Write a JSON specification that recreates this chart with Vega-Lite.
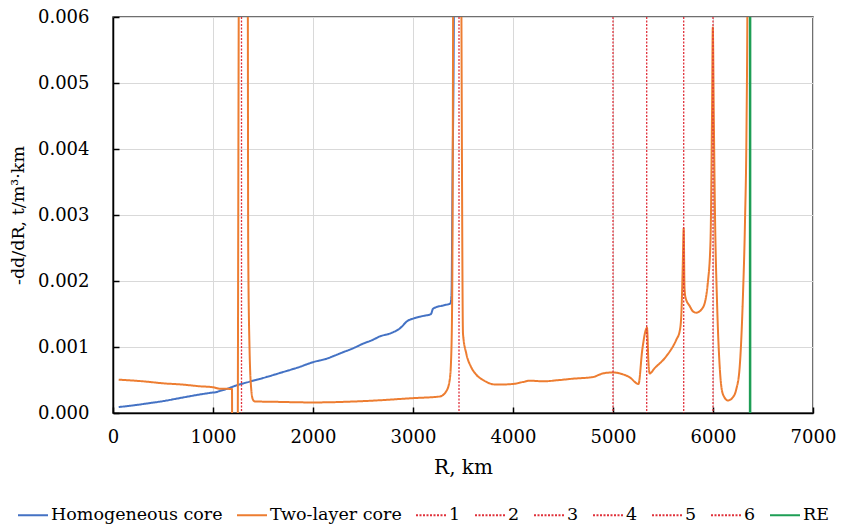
{
  "$schema": "https://vega.github.io/schema/vega-lite/v6.json",
  "width": 700,
  "height": 396,
  "autosize": {"type": "none"},
  "padding": {"left": 113, "top": 17, "right": 35, "bottom": 111},
  "background": "white",
  "config": {
    "view": {"stroke": "#404040", "strokeWidth": 1.5}
  },
  "datasets": {
    "curves": [
      {"series": "Homogeneous core", "r": 57, "v": 0.00009},
      {"series": "Homogeneous core", "r": 200, "v": 0.000115},
      {"series": "Homogeneous core", "r": 367, "v": 0.00015},
      {"series": "Homogeneous core", "r": 500, "v": 0.00018},
      {"series": "Homogeneous core", "r": 700, "v": 0.000235},
      {"series": "Homogeneous core", "r": 867, "v": 0.00028},
      {"series": "Homogeneous core", "r": 1000, "v": 0.00031},
      {"series": "Homogeneous core", "r": 1030, "v": 0.000315},
      {"series": "Homogeneous core", "r": 1060, "v": 0.00033},
      {"series": "Homogeneous core", "r": 1167, "v": 0.00038},
      {"series": "Homogeneous core", "r": 1200, "v": 0.0004},
      {"series": "Homogeneous core", "r": 1367, "v": 0.000475},
      {"series": "Homogeneous core", "r": 1500, "v": 0.00053},
      {"series": "Homogeneous core", "r": 1700, "v": 0.00062},
      {"series": "Homogeneous core", "r": 1850, "v": 0.00069},
      {"series": "Homogeneous core", "r": 2000, "v": 0.00077},
      {"series": "Homogeneous core", "r": 2150, "v": 0.00083},
      {"series": "Homogeneous core", "r": 2200, "v": 0.00086},
      {"series": "Homogeneous core", "r": 2300, "v": 0.00092},
      {"series": "Homogeneous core", "r": 2400, "v": 0.00098},
      {"series": "Homogeneous core", "r": 2500, "v": 0.00105},
      {"series": "Homogeneous core", "r": 2600, "v": 0.00111},
      {"series": "Homogeneous core", "r": 2667, "v": 0.00116},
      {"series": "Homogeneous core", "r": 2780, "v": 0.00121},
      {"series": "Homogeneous core", "r": 2867, "v": 0.00128},
      {"series": "Homogeneous core", "r": 2950, "v": 0.0014},
      {"series": "Homogeneous core", "r": 3000, "v": 0.00143},
      {"series": "Homogeneous core", "r": 3100, "v": 0.00147},
      {"series": "Homogeneous core", "r": 3180, "v": 0.0015},
      {"series": "Homogeneous core", "r": 3200, "v": 0.00158},
      {"series": "Homogeneous core", "r": 3300, "v": 0.00163},
      {"series": "Homogeneous core", "r": 3375, "v": 0.00166},
      {"series": "Homogeneous core", "r": 3385, "v": 0.0018},
      {"series": "Homogeneous core", "r": 3395, "v": 0.0035},
      {"series": "Homogeneous core", "r": 3410, "v": 0.0065},
      {"series": "Homogeneous core", "r": 3440, "v": 0.03},
      {"series": "Two-layer core", "r": 57, "v": 0.000505},
      {"series": "Two-layer core", "r": 300, "v": 0.00048},
      {"series": "Two-layer core", "r": 500, "v": 0.00045},
      {"series": "Two-layer core", "r": 700, "v": 0.00043},
      {"series": "Two-layer core", "r": 867, "v": 0.000405},
      {"series": "Two-layer core", "r": 1000, "v": 0.00039},
      {"series": "Two-layer core", "r": 1067, "v": 0.000368},
      {"series": "Two-layer core", "r": 1190, "v": 0.000364},
      {"series": "Two-layer core", "r": 1194, "v": -0.003},
      {"series": "Two-layer core", "r": 1240, "v": -0.003},
      {"series": "Two-layer core", "r": 1258, "v": 0.0065},
      {"series": "Two-layer core", "r": 1300, "v": 0.03},
      {"series": "Two-layer core", "r": 1348, "v": 0.0065},
      {"series": "Two-layer core", "r": 1352, "v": 0.0025},
      {"series": "Two-layer core", "r": 1365, "v": 0.001},
      {"series": "Two-layer core", "r": 1383, "v": 0.00035},
      {"series": "Two-layer core", "r": 1400, "v": 0.0002},
      {"series": "Two-layer core", "r": 1420, "v": 0.000175},
      {"series": "Two-layer core", "r": 1600, "v": 0.00017},
      {"series": "Two-layer core", "r": 2000, "v": 0.00016},
      {"series": "Two-layer core", "r": 2500, "v": 0.00018},
      {"series": "Two-layer core", "r": 3000, "v": 0.000225},
      {"series": "Two-layer core", "r": 3267, "v": 0.00025},
      {"series": "Two-layer core", "r": 3333, "v": 0.00033},
      {"series": "Two-layer core", "r": 3367, "v": 0.0005},
      {"series": "Two-layer core", "r": 3383, "v": 0.0009},
      {"series": "Two-layer core", "r": 3393, "v": 0.002},
      {"series": "Two-layer core", "r": 3402, "v": 0.0065},
      {"series": "Two-layer core", "r": 3440, "v": 0.03},
      {"series": "Two-layer core", "r": 3483, "v": 0.0065},
      {"series": "Two-layer core", "r": 3500, "v": 0.0012},
      {"series": "Two-layer core", "r": 3533, "v": 0.0009},
      {"series": "Two-layer core", "r": 3580, "v": 0.0007},
      {"series": "Two-layer core", "r": 3633, "v": 0.00058},
      {"series": "Two-layer core", "r": 3700, "v": 0.0005},
      {"series": "Two-layer core", "r": 3833, "v": 0.00043},
      {"series": "Two-layer core", "r": 4000, "v": 0.00044},
      {"series": "Two-layer core", "r": 4100, "v": 0.00047},
      {"series": "Two-layer core", "r": 4167, "v": 0.00049},
      {"series": "Two-layer core", "r": 4300, "v": 0.00048},
      {"series": "Two-layer core", "r": 4467, "v": 0.0005},
      {"series": "Two-layer core", "r": 4600, "v": 0.00052},
      {"series": "Two-layer core", "r": 4800, "v": 0.000545},
      {"series": "Two-layer core", "r": 4900, "v": 0.0006},
      {"series": "Two-layer core", "r": 5000, "v": 0.000615},
      {"series": "Two-layer core", "r": 5067, "v": 0.0006},
      {"series": "Two-layer core", "r": 5167, "v": 0.00054},
      {"series": "Two-layer core", "r": 5255, "v": 0.00044},
      {"series": "Two-layer core", "r": 5293, "v": 0.00096},
      {"series": "Two-layer core", "r": 5340, "v": 0.00129},
      {"series": "Two-layer core", "r": 5355, "v": 0.00075},
      {"series": "Two-layer core", "r": 5367, "v": 0.0006},
      {"series": "Two-layer core", "r": 5417, "v": 0.00068},
      {"series": "Two-layer core", "r": 5533, "v": 0.00086},
      {"series": "Two-layer core", "r": 5633, "v": 0.00111},
      {"series": "Two-layer core", "r": 5667, "v": 0.00124},
      {"series": "Two-layer core", "r": 5683, "v": 0.00148},
      {"series": "Two-layer core", "r": 5697, "v": 0.0022},
      {"series": "Two-layer core", "r": 5707, "v": 0.0028},
      {"series": "Two-layer core", "r": 5715, "v": 0.0019},
      {"series": "Two-layer core", "r": 5725, "v": 0.00175},
      {"series": "Two-layer core", "r": 5767, "v": 0.00162},
      {"series": "Two-layer core", "r": 5800, "v": 0.00154},
      {"series": "Two-layer core", "r": 5833, "v": 0.00152},
      {"series": "Two-layer core", "r": 5900, "v": 0.0016},
      {"series": "Two-layer core", "r": 5950, "v": 0.002},
      {"series": "Two-layer core", "r": 5975, "v": 0.0026},
      {"series": "Two-layer core", "r": 5990, "v": 0.0045},
      {"series": "Two-layer core", "r": 5998, "v": 0.00584},
      {"series": "Two-layer core", "r": 6008, "v": 0.0045},
      {"series": "Two-layer core", "r": 6020, "v": 0.003},
      {"series": "Two-layer core", "r": 6040, "v": 0.0017},
      {"series": "Two-layer core", "r": 6067, "v": 0.0007},
      {"series": "Two-layer core", "r": 6100, "v": 0.00028},
      {"series": "Two-layer core", "r": 6150, "v": 0.00019},
      {"series": "Two-layer core", "r": 6200, "v": 0.00024},
      {"series": "Two-layer core", "r": 6233, "v": 0.00036},
      {"series": "Two-layer core", "r": 6267, "v": 0.0007},
      {"series": "Two-layer core", "r": 6300, "v": 0.0018},
      {"series": "Two-layer core", "r": 6320, "v": 0.0029},
      {"series": "Two-layer core", "r": 6335, "v": 0.0043},
      {"series": "Two-layer core", "r": 6345, "v": 0.0065},
      {"series": "Two-layer core", "r": 6355, "v": 0.012}
    ],
    "rules": [
      {"series": "1", "r": 1285},
      {"series": "2", "r": 3460},
      {"series": "3", "r": 5000},
      {"series": "4", "r": 5337},
      {"series": "5", "r": 5707},
      {"series": "6", "r": 6000}
    ],
    "re": [
      {"series": "RE", "r": 6371}
    ]
  },
  "encoding": {
    "x": {
      "field": "r", "type": "quantitative",
      "scale": {"domain": [0, 7000], "nice": false},
      "axis": {
        "values": [0, 1000, 2000, 3000, 4000, 5000, 6000, 7000],
        "format": "d",
        "title": "R, km",
        "grid": true, "gridColor": "#D9D9D9", "gridWidth": 1,
        "domainColor": "#000000", "domainWidth": 1.5,
        "tickColor": "#000000", "tickWidth": 1.5, "tickSize": -6,
        "labelFont": "DejaVu Serif", "labelFontSize": 18, "labelColor": "#000000",
        "labelFlush": false, "labelOverlap": false, "labelPadding": 21,
        "titleFont": "DejaVu Serif", "titleFontSize": 20, "titleFontWeight": "normal",
        "titleColor": "#000000", "titlePadding": 11
      }
    },
    "color": {
      "field": "series", "type": "nominal",
      "scale": {
        "domain": ["Homogeneous core", "Two-layer core", "1", "2", "3", "4", "5", "6", "RE"],
        "range": ["#4472C4", "#ED7D31", "#E0303A", "#E0303A", "#E0303A", "#E0303A", "#E0303A", "#E0303A", "#1E9E55"]
      },
      "legend": {
        "title": null, "orient": "none", "direction": "horizontal",
        "legendX": -96, "legendY": 482,
        "symbolType": "stroke", "symbolSize": 900, "symbolStrokeWidth": 2,
        "labelFont": "DejaVu Serif", "labelFontSize": 17.5, "labelColor": "#000000",
        "labelOffset": 2, "columnPadding": 10, "labelLimit": 400
      }
    },
    "strokeDash": {
      "field": "series", "type": "nominal",
      "scale": {
        "domain": ["Homogeneous core", "Two-layer core", "1", "2", "3", "4", "5", "6", "RE"],
        "range": [[1, 0], [1, 0], [2, 1.5], [2, 1.5], [2, 1.5], [2, 1.5], [2, 1.5], [2, 1.5], [1, 0]]
      },
      "legend": {
        "title": null, "orient": "none", "direction": "horizontal",
        "legendX": -96, "legendY": 482,
        "symbolType": "stroke", "symbolSize": 900, "symbolStrokeWidth": 2,
        "labelFont": "DejaVu Serif", "labelFontSize": 17.5, "labelColor": "#000000",
        "labelOffset": 2, "columnPadding": 10, "labelLimit": 400
      }
    }
  },
  "layer": [
    {
      "data": {"name": "curves"},
      "mark": {"type": "line", "clip": true, "strokeWidth": 2, "interpolate": "monotone"},
      "encoding": {
        "y": {
          "field": "v", "type": "quantitative",
          "scale": {"domain": [0, 0.006], "nice": false},
          "axis": {
            "values": [0, 0.001, 0.002, 0.003, 0.004, 0.005, 0.006],
            "format": ".3f",
            "title": "-dd/dR, t/m³·km",
            "grid": true, "gridColor": "#D9D9D9", "gridWidth": 1,
            "domainColor": "#000000", "domainWidth": 1.5,
            "tickColor": "#000000", "tickWidth": 1.5, "tickSize": -6,
            "labelFont": "DejaVu Serif", "labelFontSize": 18, "labelColor": "#000000",
            "labelFlush": false, "labelOverlap": false, "labelPadding": 30,
            "titleFont": "DejaVu Serif", "titleFontSize": 17.5, "titleFontWeight": "normal",
            "titleColor": "#000000", "titlePadding": 10
          }
        }
      }
    },
    {
      "data": {"name": "rules"},
      "mark": {"type": "rule", "strokeWidth": 1.3},
      "encoding": {}
    },
    {
      "data": {"name": "re"},
      "mark": {"type": "rule", "strokeWidth": 2.5},
      "encoding": {}
    }
  ]
}
